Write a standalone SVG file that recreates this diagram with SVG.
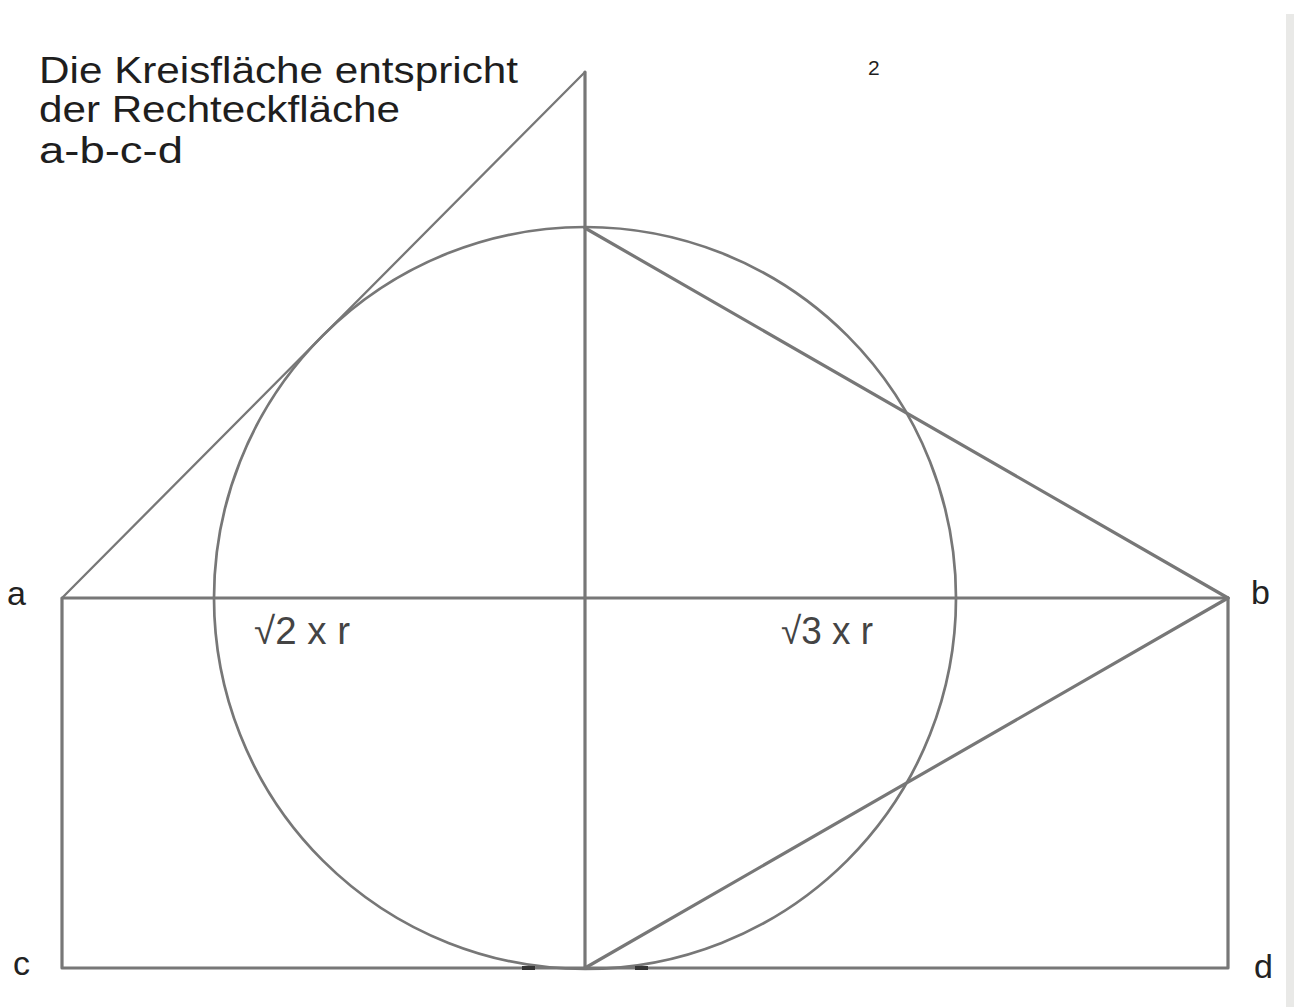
<svg xmlns="http://www.w3.org/2000/svg" width="1294" height="1007" viewBox="0 0 1294 1007">
<style>
.ln{stroke:#777777;stroke-width:3.2;fill:none;stroke-linecap:round;stroke-linejoin:round}
.thin{stroke:#777777;stroke-width:2.3;fill:none;stroke-linecap:round}
.t{font-family:"Liberation Sans",Arial,sans-serif;fill:#1e1e1e}
.lbl{font-family:"Liberation Sans",Arial,sans-serif;fill:#222;font-size:34px}
.f{font-family:"Liberation Sans",Arial,sans-serif;fill:#444;font-size:38px}
</style>
<rect width="1294" height="1007" fill="#ffffff"/>
<rect x="1286" y="14" width="8" height="993" fill="#e9e9e7"/>
<g id="title">
<text class="t" x="39" y="83" font-size="36" textLength="479" lengthAdjust="spacingAndGlyphs">Die Kreisfläche entspricht</text>
<text class="t" x="39" y="122" font-size="36" textLength="361" lengthAdjust="spacingAndGlyphs">der Rechteckfläche</text>
<text class="t" x="39" y="163" font-size="36" textLength="144" lengthAdjust="spacingAndGlyphs">a-b-c-d</text>
</g>
<text class="t" x="868" y="75" font-size="21">2</text>
<g id="connectors">
<circle class="thin" cx="585" cy="598" r="371" style="stroke-width:2.7"/>
<rect class="ln" x="62" y="598" width="1166" height="370"/>
<line class="ln" x1="585" y1="72" x2="585" y2="968"/>
<line class="thin" x1="62" y1="598" x2="585" y2="72"/>
<line class="ln" x1="585" y1="228" x2="1228" y2="598"/>
<line class="ln" x1="585" y1="968" x2="1228" y2="598"/>
<rect x="522" y="966" width="13" height="4" fill="#333"/>
<rect x="635" y="966" width="13" height="4" fill="#333"/>
</g>
<g id="node-a"><text class="lbl" x="7" y="605">a</text></g>
<g id="node-b"><text class="lbl" x="1251" y="604">b</text></g>
<g id="node-c"><text class="lbl" x="13" y="975">c</text></g>
<g id="node-d"><text class="lbl" x="1254" y="978">d</text></g>
<g id="label-sqrt2"><text class="f" x="254" y="644" textLength="96" lengthAdjust="spacingAndGlyphs">√2 x r</text></g>
<g id="label-sqrt3"><text class="f" x="781" y="644" textLength="92" lengthAdjust="spacingAndGlyphs">√3 x r</text></g>
</svg>
